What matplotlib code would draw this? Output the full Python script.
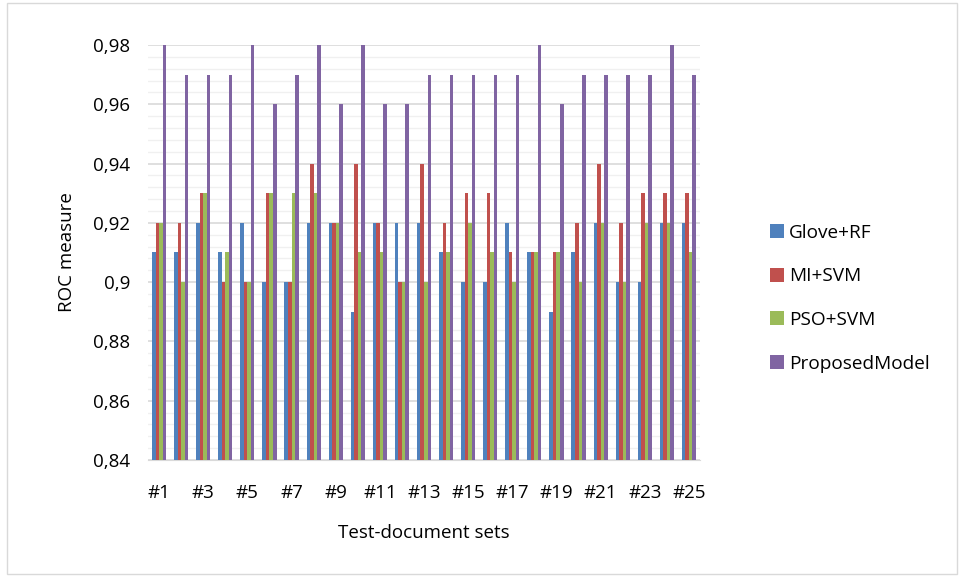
import numpy as np
import matplotlib
matplotlib.use("Agg")
import matplotlib.pyplot as plt
from matplotlib.ticker import FuncFormatter, MultipleLocator
from matplotlib.patches import Rectangle

plt.rcParams["font.family"] = ["Open Sans", "DejaVu Sans"]

sets = [f"#{i}" for i in range(1, 26)]
series = ["Glove+RF", "MI+SVM", "PSO+SVM", "ProposedModel"]
glove_rf = [0.91, 0.91, 0.92, 0.91, 0.92, 0.90, 0.90, 0.92, 0.92, 0.89, 0.92, 0.92, 0.92,
            0.91, 0.90, 0.90, 0.92, 0.91, 0.89, 0.91, 0.92, 0.90, 0.90, 0.92, 0.92]
mi_svm = [0.92, 0.92, 0.93, 0.90, 0.90, 0.93, 0.90, 0.94, 0.92, 0.94, 0.92, 0.90, 0.94,
          0.92, 0.93, 0.93, 0.91, 0.91, 0.91, 0.92, 0.94, 0.92, 0.93, 0.93, 0.93]
pso_svm = [0.92, 0.90, 0.93, 0.91, 0.90, 0.93, 0.93, 0.93, 0.92, 0.91, 0.91, 0.90, 0.90,
           0.91, 0.92, 0.91, 0.90, 0.91, 0.91, 0.90, 0.92, 0.90, 0.92, 0.92, 0.91]
proposed = [0.98, 0.97, 0.97, 0.97, 0.98, 0.96, 0.97, 0.98, 0.96, 0.98, 0.96, 0.96, 0.97,
            0.97, 0.97, 0.97, 0.97, 0.98, 0.96, 0.97, 0.97, 0.97, 0.97, 0.98, 0.97]
colors = ["#4F81BD", "#C0504D", "#9BBB59", "#8064A2"]

fig = plt.figure(figsize=(9.6, 5.77), dpi=100)
fig.patches.append(Rectangle((0.007, 0.005), 0.99, 0.99, transform=fig.transFigure,
                             fill=False, edgecolor="#D9D9D9", lw=1))
ax = fig.add_axes([148 / 960, 1 - 460 / 577, (700 - 148) / 960, (460 - 45) / 577])

x = np.arange(len(sets))
w = 0.16
for k, (vals, c, name) in enumerate(zip([glove_rf, mi_svm, pso_svm, proposed], colors, series)):
    ax.bar(x + (k - 1.5) * w, np.array(vals) - 0.84, bottom=0.84, width=w,
           color=c, label=name, zorder=3)

ax.set_xlim(-0.5, len(sets) - 0.5)
ax.set_ylim(0.84, 0.98)
ax.yaxis.set_major_locator(MultipleLocator(0.02))
ax.yaxis.set_minor_locator(MultipleLocator(0.004))
ax.yaxis.set_major_formatter(FuncFormatter(lambda v, p: f"{v:.2f}".rstrip("0").replace(".", ",")))
ax.grid(axis="y", which="major", color="#D9D9D9", lw=1.2, zorder=0)
ax.grid(axis="y", which="minor", color="#F0F0F0", lw=1.0, zorder=0)
ax.set_xticks(x[::2])
ax.set_xticklabels(sets[::2])
ax.tick_params(axis="both", which="both", length=0, labelsize=13.5, colors="#000000")
ax.tick_params(axis="x", pad=17)
ax.tick_params(axis="y", pad=13)
for s in ["top", "right", "left"]:
    ax.spines[s].set_visible(False)
ax.spines["bottom"].set_color("#D9D9D9")

ax.set_ylabel("ROC measure", fontsize=13.5, labelpad=12)
ax.set_xlabel("Test-document sets", fontsize=13.5, labelpad=16)

ax.legend(loc="center left", bbox_to_anchor=(1.096, 0.39), frameon=False, fontsize=13.7,
          handlelength=0.75, handleheight=0.75, labelspacing=1.35, handletextpad=0.25)

fig.savefig("out.png", dpi=100)
